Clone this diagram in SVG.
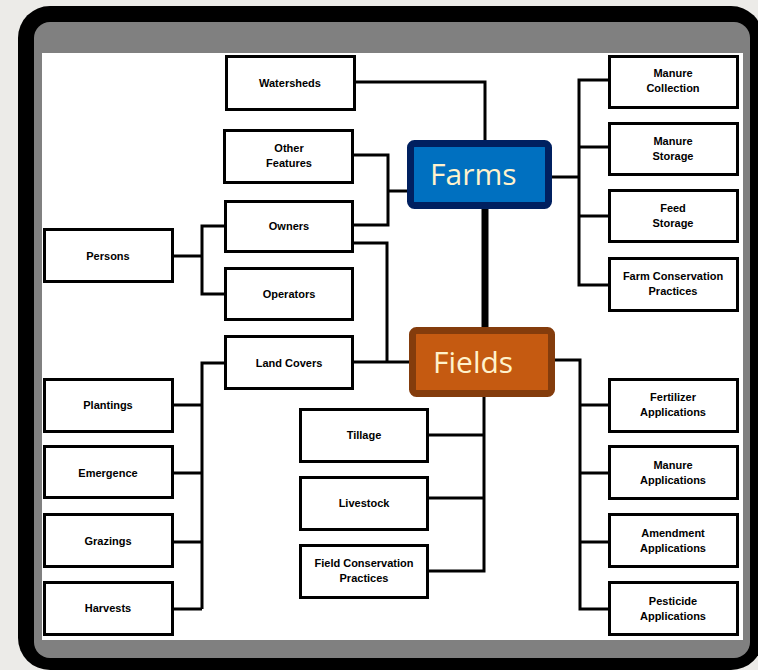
<svg xmlns="http://www.w3.org/2000/svg" width="758" height="670" viewBox="0 0 758 670">
<style>
.box{fill:#fff;stroke:#000;stroke-width:3}
.lbl{font-family:"Liberation Sans",Arial,sans-serif;font-size:11px;font-weight:bold;text-anchor:middle;fill:#000}
.conn{fill:none;stroke:#000;stroke-width:3}
.big{font-family:"Open Sans","Liberation Sans",sans-serif;font-size:30px;fill:#FFF2CC}
</style>
<rect x="0" y="0" width="758" height="670" fill="#ecebe8"/>
<rect x="18" y="6" width="745" height="664" rx="32" fill="#000"/>
<rect x="34" y="22" width="716" height="636" rx="16" fill="#808080"/>
<rect x="42" y="53" width="701" height="587" fill="#fff"/>

<g id="connectors">
<path class="conn" d="M356,82 H485 V140"/>
<path class="conn" d="M354,155 H388 V225 H353 M388,191 H408"/>
<path class="conn" d="M353,243 H387 V362 M353,362 H410"/>
<path class="conn" d="M173,256 H202 M225,226 H202 V294 H225"/>
<path class="conn" d="M224,363 H202 V609 M173,405 H202 M173,473 H202 M173,542 H202 M173,609 H202"/>
<path class="conn" d="M552,177 H579 M608,80 H579 V285 H608 M579,147 H608 M579,216 H608"/>
<path class="conn" d="M555,360 H580 V609 H608 M580,405 H608 M580,473 H608 M580,542 H608"/>
<path class="conn" d="M484,397 V571 H429 M484,435 H429 M484,498 H429"/>
<path d="M485,209 V328" fill="none" stroke="#000" stroke-width="7"/>
</g>

<g id="farms">
<rect x="410.5" y="143.5" width="138" height="62" rx="4" fill="#0070C0" stroke="#002060" stroke-width="7"/>
<text class="big" x="430" y="185">Farms</text>
</g>
<g id="fields">
<rect x="412.5" y="330.5" width="139" height="63" rx="4" fill="#C55A11" stroke="#843C0C" stroke-width="7"/>
<text class="big" x="433" y="373">Fields</text>
</g>

<g id="watersheds"><rect class="box" x="226.5" y="56.5" width="128" height="53"/><text class="lbl" x="290" y="87">Watersheds</text></g>
<g id="other-features"><rect class="box" x="224.5" y="130.5" width="128" height="52"/><text class="lbl" x="289" y="152">Other</text><text class="lbl" x="289" y="167">Features</text></g>
<g id="owners"><rect class="box" x="225.5" y="201.5" width="127" height="50"/><text class="lbl" x="289" y="230">Owners</text></g>
<g id="operators"><rect class="box" x="225.5" y="268.5" width="127" height="51"/><text class="lbl" x="289" y="298">Operators</text></g>
<g id="land-covers"><rect class="box" x="225.5" y="336.5" width="127" height="52"/><text class="lbl" x="289" y="367">Land Covers</text></g>
<g id="persons"><rect class="box" x="44.5" y="229.5" width="128" height="52"/><text class="lbl" x="108" y="260">Persons</text></g>

<g id="plantings"><rect class="box" x="44.5" y="379.5" width="128" height="52"/><text class="lbl" x="108" y="409">Plantings</text></g>
<g id="emergence"><rect class="box" x="44.5" y="446.5" width="128" height="51"/><text class="lbl" x="108" y="477">Emergence</text></g>
<g id="grazings"><rect class="box" x="44.5" y="514.5" width="128" height="52"/><text class="lbl" x="108" y="545">Grazings</text></g>
<g id="harvests"><rect class="box" x="44.5" y="582.5" width="128" height="52"/><text class="lbl" x="108" y="612">Harvests</text></g>

<g id="tillage"><rect class="box" x="300.5" y="409.5" width="127" height="52"/><text class="lbl" x="364" y="439">Tillage</text></g>
<g id="livestock"><rect class="box" x="300.5" y="477.5" width="127" height="52"/><text class="lbl" x="364" y="507">Livestock</text></g>
<g id="field-conservation"><rect class="box" x="300.5" y="545.5" width="127" height="52"/><text class="lbl" x="364" y="567">Field Conservation</text><text class="lbl" x="364" y="582">Practices</text></g>

<g id="manure-collection"><rect class="box" x="609.5" y="56.5" width="128" height="51"/><text class="lbl" x="673" y="77">Manure</text><text class="lbl" x="673" y="92">Collection</text></g>
<g id="manure-storage"><rect class="box" x="609.5" y="123.5" width="128" height="51"/><text class="lbl" x="673" y="145">Manure</text><text class="lbl" x="673" y="160">Storage</text></g>
<g id="feed-storage"><rect class="box" x="609.5" y="190.5" width="128" height="51"/><text class="lbl" x="673" y="212">Feed</text><text class="lbl" x="673" y="227">Storage</text></g>
<g id="farm-conservation"><rect class="box" x="609.5" y="258.5" width="128" height="52"/><text class="lbl" x="673" y="280">Farm Conservation</text><text class="lbl" x="673" y="295">Practices</text></g>

<g id="fertilizer"><rect class="box" x="609.5" y="379.5" width="128" height="52"/><text class="lbl" x="673" y="401">Fertilizer</text><text class="lbl" x="673" y="416">Applications</text></g>
<g id="manure-applications"><rect class="box" x="609.5" y="446.5" width="128" height="52"/><text class="lbl" x="673" y="469">Manure</text><text class="lbl" x="673" y="484">Applications</text></g>
<g id="amendment"><rect class="box" x="609.5" y="514.5" width="128" height="52"/><text class="lbl" x="673" y="537">Amendment</text><text class="lbl" x="673" y="552">Applications</text></g>
<g id="pesticide"><rect class="box" x="609.5" y="582.5" width="128" height="52"/><text class="lbl" x="673" y="605">Pesticide</text><text class="lbl" x="673" y="620">Applications</text></g>
</svg>
